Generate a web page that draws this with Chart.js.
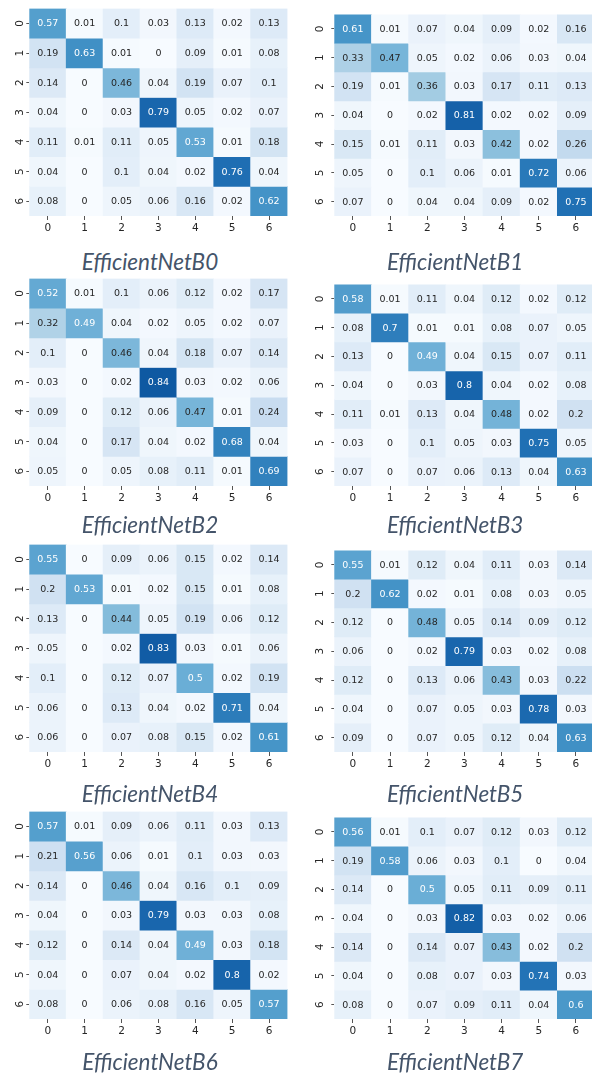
<!DOCTYPE html>
<html>
<head>
<meta charset="utf-8">
<script src="https://cdn.jsdelivr.net/npm/chart.js@4.4.1/dist/chart.umd.min.js"></script>
<style>
  html, body { margin: 0; padding: 0; background: #fff; overflow: hidden; }
  body { width: 592px; height: 1075px; position: relative; }
  .panel { position: absolute; }
  .caption {
    position: absolute; width: 300px; text-align: center;
    font-family: "Lato", sans-serif; font-style: italic; font-size: 22.5px;
    line-height: 26px; height: 26px; color: #44546a; white-space: nowrap;
  }
</style>
</head>
<body>
<script>
// class labels for both axes
const classLabels = ["0", "1", "2", "3", "4", "5", "6"];
const modelNames = ["EfficientNetB0", "EfficientNetB1", "EfficientNetB2", "EfficientNetB3",
                    "EfficientNetB4", "EfficientNetB5", "EfficientNetB6", "EfficientNetB7"];

// confusion matrices (rows = true class, cols = predicted class)
const effB0 = [
  [0.57, 0.01, 0.1, 0.03, 0.13, 0.02, 0.13],
  [0.19, 0.63, 0.01, 0, 0.09, 0.01, 0.08],
  [0.14, 0, 0.46, 0.04, 0.19, 0.07, 0.1],
  [0.04, 0, 0.03, 0.79, 0.05, 0.02, 0.07],
  [0.11, 0.01, 0.11, 0.05, 0.53, 0.01, 0.18],
  [0.04, 0, 0.1, 0.04, 0.02, 0.76, 0.04],
  [0.08, 0, 0.05, 0.06, 0.16, 0.02, 0.62]
];
const effB1 = [
  [0.61, 0.01, 0.07, 0.04, 0.09, 0.02, 0.16],
  [0.33, 0.47, 0.05, 0.02, 0.06, 0.03, 0.04],
  [0.19, 0.01, 0.36, 0.03, 0.17, 0.11, 0.13],
  [0.04, 0, 0.02, 0.81, 0.02, 0.02, 0.09],
  [0.15, 0.01, 0.11, 0.03, 0.42, 0.02, 0.26],
  [0.05, 0, 0.1, 0.06, 0.01, 0.72, 0.06],
  [0.07, 0, 0.04, 0.04, 0.09, 0.02, 0.75]
];
const effB2 = [
  [0.52, 0.01, 0.1, 0.06, 0.12, 0.02, 0.17],
  [0.32, 0.49, 0.04, 0.02, 0.05, 0.02, 0.07],
  [0.1, 0, 0.46, 0.04, 0.18, 0.07, 0.14],
  [0.03, 0, 0.02, 0.84, 0.03, 0.02, 0.06],
  [0.09, 0, 0.12, 0.06, 0.47, 0.01, 0.24],
  [0.04, 0, 0.17, 0.04, 0.02, 0.68, 0.04],
  [0.05, 0, 0.05, 0.08, 0.11, 0.01, 0.69]
];
const effB3 = [
  [0.58, 0.01, 0.11, 0.04, 0.12, 0.02, 0.12],
  [0.08, 0.7, 0.01, 0.01, 0.08, 0.07, 0.05],
  [0.13, 0, 0.49, 0.04, 0.15, 0.07, 0.11],
  [0.04, 0, 0.03, 0.8, 0.04, 0.02, 0.08],
  [0.11, 0.01, 0.13, 0.04, 0.48, 0.02, 0.2],
  [0.03, 0, 0.1, 0.05, 0.03, 0.75, 0.05],
  [0.07, 0, 0.07, 0.06, 0.13, 0.04, 0.63]
];
const effB4 = [
  [0.55, 0, 0.09, 0.06, 0.15, 0.02, 0.14],
  [0.2, 0.53, 0.01, 0.02, 0.15, 0.01, 0.08],
  [0.13, 0, 0.44, 0.05, 0.19, 0.06, 0.12],
  [0.05, 0, 0.02, 0.83, 0.03, 0.01, 0.06],
  [0.1, 0, 0.12, 0.07, 0.5, 0.02, 0.19],
  [0.06, 0, 0.13, 0.04, 0.02, 0.71, 0.04],
  [0.06, 0, 0.07, 0.08, 0.15, 0.02, 0.61]
];
const effB5 = [
  [0.55, 0.01, 0.12, 0.04, 0.11, 0.03, 0.14],
  [0.2, 0.62, 0.02, 0.01, 0.08, 0.03, 0.05],
  [0.12, 0, 0.48, 0.05, 0.14, 0.09, 0.12],
  [0.06, 0, 0.02, 0.79, 0.03, 0.02, 0.08],
  [0.12, 0, 0.13, 0.06, 0.43, 0.03, 0.22],
  [0.04, 0, 0.07, 0.05, 0.03, 0.78, 0.03],
  [0.09, 0, 0.07, 0.05, 0.12, 0.04, 0.63]
];
const effB6 = [
  [0.57, 0.01, 0.09, 0.06, 0.11, 0.03, 0.13],
  [0.21, 0.56, 0.06, 0.01, 0.1, 0.03, 0.03],
  [0.14, 0, 0.46, 0.04, 0.16, 0.1, 0.09],
  [0.04, 0, 0.03, 0.79, 0.03, 0.03, 0.08],
  [0.12, 0, 0.14, 0.04, 0.49, 0.03, 0.18],
  [0.04, 0, 0.07, 0.04, 0.02, 0.8, 0.02],
  [0.08, 0, 0.06, 0.08, 0.16, 0.05, 0.57]
];
const effB7 = [
  [0.56, 0.01, 0.1, 0.07, 0.12, 0.03, 0.12],
  [0.19, 0.58, 0.06, 0.03, 0.1, 0, 0.04],
  [0.14, 0, 0.5, 0.05, 0.11, 0.09, 0.11],
  [0.04, 0, 0.03, 0.82, 0.03, 0.02, 0.06],
  [0.14, 0, 0.14, 0.07, 0.43, 0.02, 0.2],
  [0.04, 0, 0.08, 0.07, 0.03, 0.74, 0.03],
  [0.08, 0, 0.07, 0.09, 0.11, 0.04, 0.6]
];
const matrices = [effB0, effB1, effB2, effB3, effB4, effB5, effB6, effB7];

// seaborn/matplotlib "Blues", vmin 0 vmax 1
const bluesStops = [[247,251,255],[222,235,247],[198,219,239],[158,202,225],[107,174,214],
                    [66,146,198],[33,113,181],[8,81,156],[8,48,107]];
function bluesRgb(v) {
  const idx = Math.min(255, Math.max(0, Math.floor(v * 256)));
  const x = idx / 255 * 8;
  const i = Math.min(7, Math.floor(x));
  const t = x - i;
  const a = bluesStops[i], b = bluesStops[i + 1];
  return a.map((c, k) => c + (b[k] - c) * t);
}
function lum(rgb) {
  const l = rgb.map(c => {
    c = c / 255;
    return c <= 0.03928 ? c / 12.92 : Math.pow((c + 0.055) / 1.055, 2.4);
  });
  return 0.2126 * l[0] + 0.7152 * l[1] + 0.0722 * l[2];
}
const toCss = rgb => "rgb(" + rgb.map(Math.round).join(",") + ")";

// annotate each cell with its value
const cellText = {
  id: "cellText",
  afterDatasetsDraw(chart) {
    const ctx = chart.ctx;
    ctx.save();
    ctx.font = "9.5px 'DejaVu Sans'";
    ctx.textAlign = "center";
    ctx.textBaseline = "middle";
    chart.data.datasets.forEach((ds, ri) => {
      chart.getDatasetMeta(ri).data.forEach((bar, ci) => {
        const v = ds.values[ci];
        const p = bar.getCenterPoint();
        ctx.fillStyle = lum(bluesRgb(v)) > 0.405 ? "#262626" : "#ffffff";
        ctx.fillText(String(v), p.x, p.y + 0.5);
      });
    });
    ctx.restore();
  }
};

const colLeft = [0, 296];
const rowTop = [0, 269.8, 536.1, 803.1];
const captionX = [150, 455.2];
const captionY = [262, 525, 794, 1061.7];
const colLayout = [
  { padR: 12.5, axisW: 25.3, tickPad: 2.3 },
  { padR: 1.5, axisW: 34.3, tickPad: 8.1 }
];

matrices.forEach((m, n) => {
  const col = n % 2, row = Math.floor(n / 2);
  const lay = colLayout[col];
  const div = document.createElement("div");
  div.className = "panel";
  div.style.left = colLeft[col] + "px";
  div.style.top = rowTop[row] + "px";
  const cv = document.createElement("canvas");
  cv.width = 300;
  cv.height = 240;
  div.appendChild(cv);
  document.body.appendChild(div);

  const cap = document.createElement("div");
  cap.className = "caption";
  cap.textContent = modelNames[n];
  cap.style.left = (captionX[col] - 150) + "px";
  cap.style.top = (captionY[row] - 13) + "px";
  document.body.appendChild(cap);

  new Chart(cv, {
    type: "bar",
    data: {
      labels: classLabels,
      datasets: m.map((r, ri) => ({
        label: classLabels[ri],
        data: r.map(() => 1),
        values: r,
        backgroundColor: r.map(v => toCss(bluesRgb(v))),
        borderWidth: 0,
        barPercentage: 1,
        categoryPercentage: 1
      }))
    },
    options: {
      responsive: false,
      animation: false,
      devicePixelRatio: 1,
      layout: { padding: { left: 4, right: lay.padR, top: 8, bottom: 4 } },
      scales: {
        x: {
          stacked: true,
          grid: { display: true, drawOnChartArea: false, offset: false, tickLength: 4, tickColor: "#555" },
          border: { display: false },
          ticks: { color: "#262626", font: { family: "DejaVu Sans", size: 10.5 }, padding: 1.5 },
          afterFit: s => { s.height = 20; }
        },
        y: {
          stacked: true,
          reverse: true,
          min: 0,
          max: 7,
          afterBuildTicks: s => { s.ticks = classLabels.map((l, i) => ({ value: i + 0.5 })); },
          grid: { display: true, drawOnChartArea: false, tickLength: 3, tickColor: "#555" },
          border: { display: false },
          ticks: {
            callback: (v, i) => classLabels[i],
            minRotation: 90,
            maxRotation: 90,
            crossAlign: "center",
            padding: lay.tickPad,
            color: "#262626",
            font: { family: "DejaVu Sans", size: 10.5 }
          },
          afterFit: s => { s.width = lay.axisW; }
        }
      },
      plugins: {
        legend: { display: false },
        tooltip: { enabled: false },
        title: { display: false }
      }
    },
    plugins: [cellText]
  });
});
</script>
</body>
</html>
